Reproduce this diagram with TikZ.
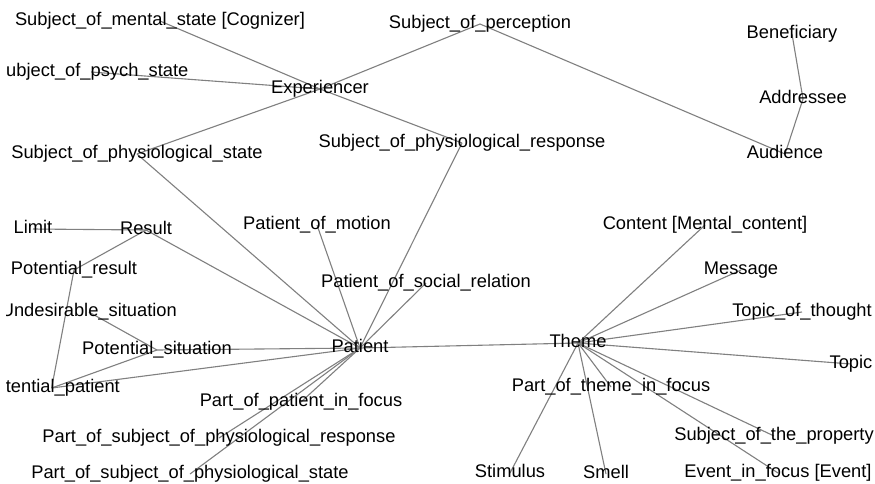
\documentclass[tikz,border=0pt]{standalone}
\usepackage{fontspec}
\setmainfont{Liberation Sans}
\usetikzlibrary{backgrounds}
\definecolor{edgegray}{RGB}{128,128,128}
\begin{document}
\begin{tikzpicture}[x=1pt,y=-1pt,
  lbl/.style={inner sep=0pt, text height=13pt, text depth=4pt, font=\fontsize{18.3}{20}\selectfont, text=black},
  edge/.style={draw=edgegray, line width=1.1pt}]
\useasboundingbox (0,0) rectangle (875,483);
\begin{scope}
\clip (6.5,0) rectangle (875,483);
% labels
\node[lbl] (men) at (160,21) {Subject\_of\_mental\_state [Cognizer]};
\node[lbl] (perc) at (480,24) {Subject\_of\_perception};
\node[lbl] (benef) at (792,34) {Beneficiary};
\node[lbl,anchor=east] (psych) at (188.5,72) {Subject\_of\_psych\_state};
\node[lbl] (exp) at (320,89) {Experiencer};
\node[lbl] (addr) at (803,99) {Addressee};
\node[lbl] (physt) at (137,154) {Subject\_of\_physiological\_state};
\node[lbl] (physr) at (462,143) {Subject\_of\_physiological\_response};
\node[lbl] (aud) at (785,154) {Audience};
\node[lbl] (limit) at (33,229) {Limit};
\node[lbl] (result) at (146,230) {Result};
\node[lbl] (pmot) at (317,225) {Patient\_of\_motion};
\node[lbl] (content) at (705,225) {Content [Mental\_content]};
\node[lbl] (potres) at (74,270) {Potential\_result};
\node[lbl] (msg) at (741,270) {Message};
\node[lbl] (psoc) at (426,283) {Patient\_of\_social\_relation};
\node[lbl,anchor=east] (undes) at (177,312) {Undesirable\_situation};
\node[lbl] (tot) at (802,312) {Topic\_of\_thought};
\node[lbl] (potsit) at (157,350) {Potential\_situation};
\node[lbl] (patient) at (360,348) {Patient};
\node[lbl] (theme) at (578,343) {Theme};
\node[lbl] (topic) at (851,364) {Topic};
\node[lbl,anchor=east] (potpat) at (120,388) {Potential\_patient};
\node[lbl] (ptf) at (611,387) {Part\_of\_theme\_in\_focus};
\node[lbl] (ppf) at (301,402) {Part\_of\_patient\_in\_focus};
\node[lbl] (pspr) at (219,438) {Part\_of\_subject\_of\_physiological\_response};
\node[lbl] (sotp) at (774,436) {Subject\_of\_the\_property};
\node[lbl] (psps) at (190,474) {Part\_of\_subject\_of\_physiological\_state};
\node[lbl] (stim) at (510,473) {Stimulus};
\node[lbl] (smell) at (606,474) {Smell};
\node[lbl] (event) at (778,473) {Event\_in\_focus [Event]};
\end{scope}
% edges
\begin{scope}[on background layer]
\fill[white] (0,0) rectangle (875,483);
\foreach \a/\b in {exp/men, exp/psych, exp/perc, exp/physt, exp/physr,
  perc/aud, benef/addr, addr/aud,
  physt/patient, physr/patient, limit/result, result/potres, result/patient,
  potres/potpat, undes/potsit, potsit/patient, potsit/potpat, potpat/patient,
  pmot/patient, psoc/patient, patient/theme, patient/ppf, patient/pspr, patient/psps,
  theme/content, theme/msg, theme/tot, theme/topic, theme/ptf, theme/stim,
  theme/smell, theme/sotp, theme/event}
  \draw[edge] (\a.center) -- (\b.center);
\end{scope}
\end{tikzpicture}
\end{document}
